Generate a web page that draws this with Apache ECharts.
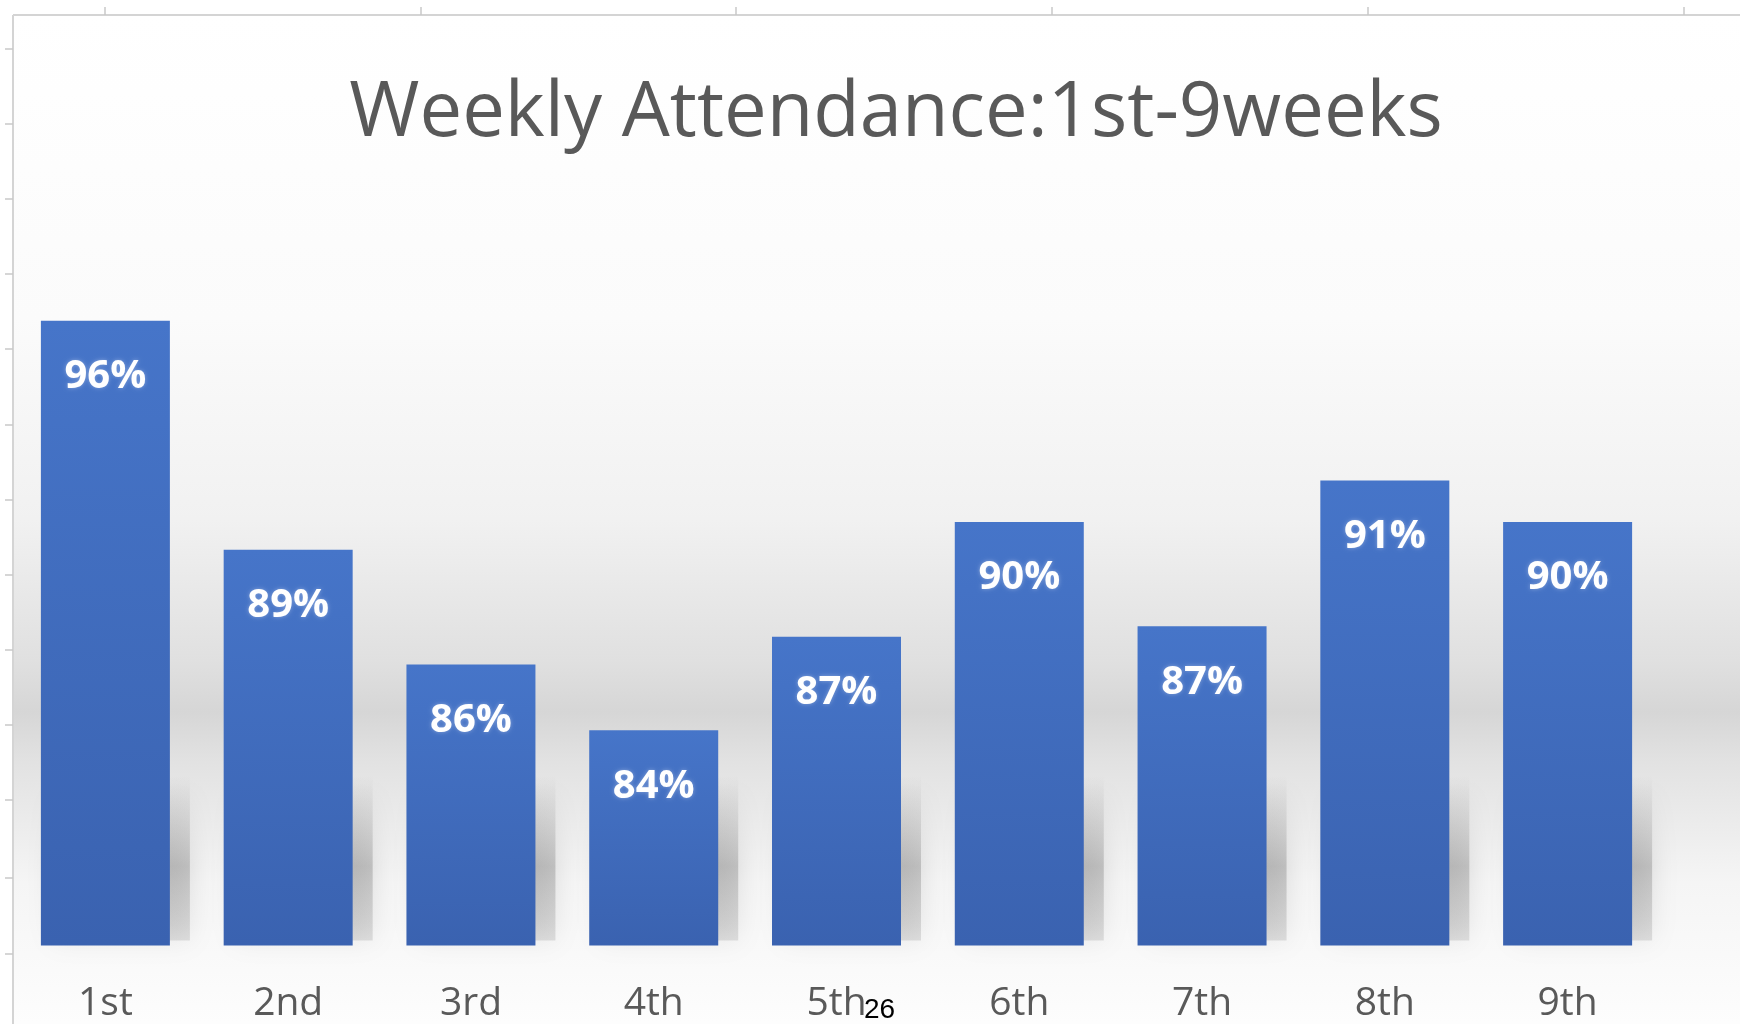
<!DOCTYPE html>
<html>
<head>
<meta charset="utf-8">
<title>Weekly Attendance</title>
<script src="https://cdn.jsdelivr.net/npm/echarts@6/dist/echarts.min.js"></script>
<style>
  html, body { margin: 0; padding: 0; background: #ffffff; }
  #chart { width: 1740px; height: 1024px; }
</style>
</head>
<body>
<div id="chart"></div>
<script>
// week labels and attendance (%)
const weeks = ['1st', '2nd', '3rd', '4th', '5th', '6th', '7th', '8th', '9th'];
const attendance = [96.0, 89.4, 86.1, 84.2, 86.9, 90.2, 87.2, 91.4, 90.2];
const axisMin = 78;
const axisMax = 100;

const chart = echarts.init(document.getElementById('chart'));

// spreadsheet ruler around the chart object
const topTicks = [105, 421, 736, 1052, 1368, 1684];
const leftTicks = [49, 124, 199, 274, 349, 425, 500, 575, 650, 725, 800, 878, 954];
const ruler = [
  { type: 'line', shape: { x1: 13, y1: 15, x2: 1740, y2: 15 }, style: { stroke: '#d4d4d4', lineWidth: 2 }, z: 1 },
  { type: 'line', shape: { x1: 13, y1: 15, x2: 13, y2: 1024 }, style: { stroke: '#d4d4d4', lineWidth: 2 }, z: 1 },
  ...topTicks.map(x => ({ type: 'line', shape: { x1: x, y1: 7, x2: x, y2: 15 }, style: { stroke: '#c8c8c8', lineWidth: 1.5 }, z: 1 })),
  ...leftTicks.map(y => ({ type: 'line', shape: { x1: 5, y1: y, x2: 13, y2: y }, style: { stroke: '#c8c8c8', lineWidth: 1.5 }, z: 1 }))
];

const option = {
  animation: false,
  backgroundColor: '#ffffff',
  title: {
    text: 'Weekly Attendance:1st-9weeks',
    left: 891,
    top: 71,
    textAlign: 'center',
    textStyle: { fontFamily: 'Open Sans', fontSize: 76, fontWeight: 'normal', color: '#595959' }
  },
  graphic: [
    {
      type: 'rect',
      shape: { x: 14, y: 16, width: 1726, height: 1008 },
      style: {
        fill: new echarts.graphic.LinearGradient(0, 0, 0, 1, [
          { offset: 0, color: '#ffffff' },
          { offset: 0.3, color: '#fbfbfb' },
          { offset: 0.5, color: '#f1f1f1' },
          { offset: 0.64, color: '#e0e0e0' },
          { offset: 0.69, color: '#d6d6d6' },
          { offset: 0.74, color: '#e2e2e2' },
          { offset: 0.86, color: '#f5f5f5' },
          { offset: 1, color: '#fdfdfd' }
        ])
      },
      z: -10,
      silent: true
    },
    ...ruler,
    {
      type: 'text',
      left: 864,
      top: 996,
      style: { text: '26', fontFamily: 'Liberation Sans', fontSize: 28, fill: '#000000' },
      z: 10
    }
  ],
  grid: { left: 14, right: 81, top: 182, bottom: 78.5 },
  xAxis: {
    type: 'category',
    data: weeks,
    axisLine: { show: false },
    axisTick: { show: false },
    axisLabel: { color: '#595959', fontFamily: 'Open Sans', fontSize: 39, margin: 39 }
  },
  yAxis: {
    type: 'value',
    min: axisMin,
    max: axisMax,
    show: false
  },
  series: [
    {
      // soft floor shadow behind each bar
      type: 'custom',
      silent: true,
      z: 1,
      data: attendance.map((v, i) => [i, v]),
      renderItem: (params, api) => {
        const base = api.coord([api.value(0), axisMin]);
        const half = 64.5;
        return {
          type: 'rect',
          shape: { x: base[0] - half + 12, y: base[1] - 170, width: 2 * half + 8, height: 165 },
          style: {
            fill: new echarts.graphic.LinearGradient(0, 0, 0, 1, [
              { offset: 0, color: 'rgba(120,120,120,0)' },
              { offset: 0.55, color: 'rgba(120,120,120,0.35)' },
              { offset: 1, color: 'rgba(120,120,120,0.2)' }
            ]),
            shadowBlur: 24,
            shadowColor: 'rgba(110,110,110,0.6)'
          }
        };
      }
    },
    {
      type: 'bar',
      data: attendance,
      barWidth: 129,
      z: 3,
      itemStyle: {
        color: new echarts.graphic.LinearGradient(0, 0, 0, 1, [
          { offset: 0, color: '#4675c9' },
          { offset: 1, color: '#3a62b0' }
        ])
      },
      label: {
        show: true,
        position: 'insideTop',
        distance: 36,
        formatter: p => Math.round(p.value) + '%',
        color: '#ffffff',
        fontFamily: 'Open Sans',
        fontWeight: 'bold',
        fontSize: 40,
        textShadowColor: 'rgba(255,255,255,0.35)',
        textShadowBlur: 4
      }
    }
  ]
};

chart.setOption(option);
</script>
</body>
</html>
